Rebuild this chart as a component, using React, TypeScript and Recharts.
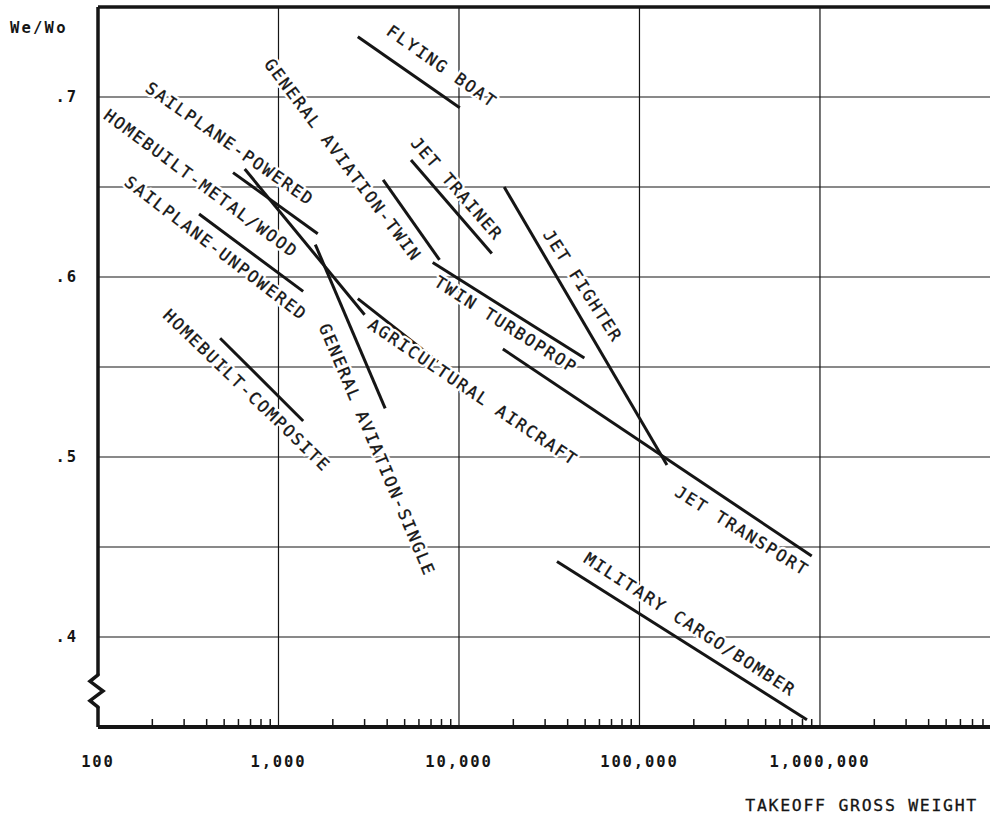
import React from 'react';
import { LineChart, Line, XAxis, YAxis, ReferenceLine, ReferenceDot, ReferenceArea } from 'recharts';

// ---- data ----
const categories = [
  'FLYING BOAT',
  'GENERAL AVIATION-TWIN',
  'JET TRAINER',
  'SAILPLANE-POWERED',
  'HOMEBUILT-METAL/WOOD',
  'SAILPLANE-UNPOWERED',
  'HOMEBUILT-COMPOSITE',
  'GENERAL AVIATION-SINGLE',
  'AGRICULTURAL AIRCRAFT',
  'TWIN TURBOPROP',
  'JET FIGHTER',
  'JET TRANSPORT',
  'MILITARY CARGO/BOMBER',
];
// takeoff gross weight (lb) and We/Wo at the start and end of each trend line
const weightFrom = [2750, 3800, 5420, 560, 650, 363, 475, 1600, 2750, 7150, 17800, 17500, 34900];
const ratioFrom = [0.7335, 0.654, 0.665, 0.658, 0.66, 0.635, 0.566, 0.618, 0.588, 0.608, 0.65, 0.56, 0.442];
const weightTo = [10100, 7800, 15200, 1650, 3000, 1370, 1370, 3900, 7650, 49500, 142000, 900000, 847000];
const ratioTo = [0.694, 0.6095, 0.613, 0.624, 0.579, 0.592, 0.52, 0.527, 0.553, 0.555, 0.4955, 0.445, 0.354];

// label anchors (data coordinates) and text angle
const labelWeight = [8050, 2275, 9750, 538, 372, 451, 668, 3515, 11970, 18200, 48600, 370000, 190500];
const labelRatio = [0.717, 0.665, 0.649, 0.674, 0.652, 0.616, 0.537, 0.504, 0.536, 0.5735, 0.595, 0.459, 0.407];
const labelAngle = [35, 53, 49, 35, 36.5, 37.5, 44, 67, 34, 32.5, 57, 32, 33];

// axes
const X_MIN = 100;
const X_MAX = 8.75e6;
const Y_MIN = 0.35;
const Y_MAX = 0.75;
const xMajorTicks = [100, 1000, 10000, 100000, 1000000];
const xMajorLabels = ['100', '1,000', '10,000', '100,000', '1,000,000'];
const xMinorTicks = [
  200, 300, 400, 500, 600, 700, 800, 900,
  2000, 3000, 4000, 5000, 6000, 7000, 8000, 9000,
  20000, 30000, 40000, 50000, 60000, 70000, 80000, 90000,
  200000, 300000, 400000, 500000, 600000, 700000, 800000, 900000,
  2000000, 3000000, 4000000, 5000000, 6000000, 7000000, 8000000,
];
const xGridValues = [1000, 10000, 100000, 1000000];
const yTickValues = [0.4, 0.5, 0.6, 0.7];
const yTickLabels = ['.4', '.5', '.6', '.7'];
const yGridValues = [0.4, 0.45, 0.5, 0.55, 0.6, 0.65, 0.7];
const axisBreak = [0.361, 0.379];

const segments = categories.map((name, i) => ({
  name,
  points: [
    { w: weightFrom[i], r: ratioFrom[i] },
    { w: weightTo[i], r: ratioTo[i] },
  ],
}));
const labels = categories.map((name, i) => ({
  name,
  w: labelWeight[i],
  r: labelRatio[i],
  angle: labelAngle[i],
}));

const INK = '#151515';
const MONO = '"DejaVu Sans Mono", "Liberation Mono", monospace';

const XTick = (props: any) => {
  const { x, y, payload } = props;
  const idx = xMajorTicks.indexOf(payload.value);
  if (idx >= 0) {
    return (
      <text x={x} y={y + 40} textAnchor="middle" fontFamily={MONO} fontSize={15.5}
        fontWeight="bold" letterSpacing={1.9} fill={INK}>
        {xMajorLabels[idx]}
      </text>
    );
  }
  return <line x1={x} x2={x} y1={y} y2={y - 8} stroke={INK} strokeWidth={1.5} />;
};

const YTick = (props: any) => {
  const { x, y, payload } = props;
  const idx = yTickValues.indexOf(payload.value);
  if (idx < 0) return null;
  return (
    <text x={x - 20} y={y} dy="0.35em" textAnchor="end" fontFamily={MONO} fontSize={15.5}
      fontWeight="bold" letterSpacing={1.9} fill={INK}>
      {yTickLabels[idx]}
    </text>
  );
};

const LabelShape = (props: any) => {
  const { cx, cy, text, angle } = props;
  const common = {
    x: cx,
    y: cy,
    dy: '0.35em',
    textAnchor: 'middle' as const,
    fontFamily: MONO,
    fontSize: 16.5,
    letterSpacing: 1.9,
    transform: `rotate(${angle} ${cx} ${cy})`,
  };
  return (
    <g>
      <text {...common} fill="#fff" stroke="#fff" strokeWidth={5} strokeLinejoin="round">{text}</text>
      <text {...common} fill={INK} stroke={INK} strokeWidth={0.35}>{text}</text>
    </g>
  );
};

const BreakShape = (props: any) => {
  const { x, y, height } = props;
  const h = height;
  const d = `M${x},${y - 1} L${x},${y} L${x - 8},${y + h * 0.2} L${x + 5},${y + h * 0.5} L${x - 8},${y + h * 0.8} L${x},${y + h} L${x},${y + h + 1}`;
  return <path d={d} fill="none" stroke={INK} strokeWidth={3.5} strokeLinejoin="miter" />;
};

export default function App() {
  return (
    <div style={{ position: 'absolute', left: 0, top: 0, width: 990, height: 815, background: '#fff' }}>
      <LineChart width={990} height={815} margin={{ top: 7, right: 0, bottom: 0, left: 0 }}>
        <XAxis
          dataKey="w"
          type="number"
          scale="log"
          domain={[X_MIN, X_MAX]}
          allowDataOverflow
          ticks={[...xMajorTicks, ...xMinorTicks].sort((a, b) => a - b)}
          interval={0}
          tick={<XTick />}
          tickLine={false}
          axisLine={false}
          tickSize={0}
          tickMargin={0}
          height={88}
          label={{
            content: (p: any) => {
              const vb = p.viewBox;
              return (
                <text x={vb.x + vb.width - 12} y={vb.y + 84} textAnchor="end" fontFamily={MONO}
                  fontSize={16.5} letterSpacing={1.7} fill={INK} stroke={INK} strokeWidth={0.3}>
                  TAKEOFF GROSS WEIGHT
                </text>
              );
            },
          }}
        />
        <YAxis
          type="number"
          domain={[Y_MIN, Y_MAX]}
          allowDataOverflow
          ticks={yTickValues}
          interval={0}
          tick={<YTick />}
          tickLine={false}
          axisLine={false}
          tickSize={0}
          tickMargin={0}
          width={98}
          label={{
            content: (p: any) => {
              const vb = p.viewBox;
              return (
                <text x={vb.x + 10} y={vb.y + 26} fontFamily={MONO} fontSize={15.5} fontWeight="bold"
                  letterSpacing={2.2} fill={INK}>
                  We/Wo
                </text>
              );
            },
          }}
        />

        {yGridValues.map((v) => (
          <ReferenceLine key={`hy${v}`} y={v} stroke={INK} strokeWidth={1.2} />
        ))}
        {xGridValues.map((v) => (
          <ReferenceLine key={`vx${v}`} x={v} stroke={INK} strokeWidth={1.2} />
        ))}

        {labels.map((l) => (
          <ReferenceDot key={`lab-${l.name}`} x={l.w} y={l.r} r={0} ifOverflow="visible"
            shape={(p: any) => <LabelShape {...p} text={l.name} angle={l.angle} />} />
        ))}

        {/* frame */}
        <ReferenceLine y={Y_MAX} stroke={INK} strokeWidth={3.5} ifOverflow="visible" />
        <ReferenceLine y={Y_MIN} stroke={INK} strokeWidth={4} ifOverflow="visible" />
        <ReferenceLine segment={[{ x: X_MIN, y: Y_MAX }, { x: X_MIN, y: axisBreak[1] }]} stroke={INK}
          strokeWidth={3.5} ifOverflow="visible" />
        <ReferenceLine segment={[{ x: X_MIN, y: axisBreak[0] }, { x: X_MIN, y: Y_MIN }]} stroke={INK}
          strokeWidth={3.5} ifOverflow="visible" />
        <ReferenceArea x1={X_MIN} x2={110} y1={axisBreak[0]} y2={axisBreak[1]} ifOverflow="visible"
          shape={(p: any) => <BreakShape {...p} />} />

        {segments.map((s) => (
          <Line key={s.name} data={s.points} dataKey="r" type="linear" stroke={INK} strokeWidth={3}
            dot={false} activeDot={false} isAnimationActive={false} legendType="none" />
        ))}
      </LineChart>
    </div>
  );
}
